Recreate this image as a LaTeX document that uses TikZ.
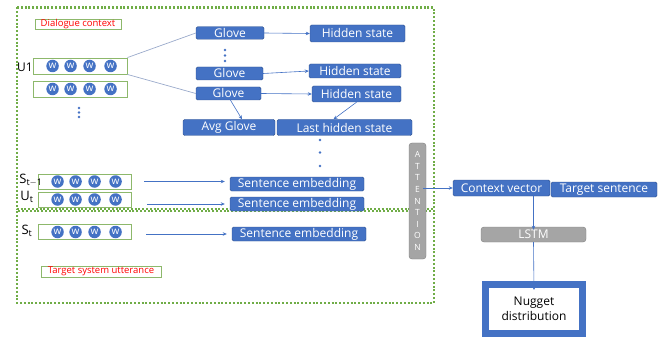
\documentclass[tikz,border=0pt]{standalone}
\usepackage{fontspec}
\setmainfont{Open Sans}
\usetikzlibrary{arrows.meta}

\definecolor{boxblue}{HTML}{4472C4}
\definecolor{boxedge}{HTML}{2F528F}
\definecolor{dotgreen}{HTML}{70AD47}
\definecolor{rowgreen}{HTML}{8DB86B}
\definecolor{attgray}{HTML}{A5A5A5}
\definecolor{attedge}{HTML}{7F7F7F}
\definecolor{linkgray}{HTML}{9AAACB}

\begin{document}
\begin{tikzpicture}[x=1pt, y=-1pt,
    blk/.style={draw=boxedge, fill=boxblue, text=white, rounded corners=1.5, inner sep=0, font=\fontsize{12}{13}\selectfont},
    gry/.style={draw=attedge, fill=attgray, text=white, rounded corners=3, inner sep=0, font=\fontsize{10}{12}\selectfont},
    row/.style={draw=rowgreen, line width=0.9, minimum width=94, minimum height=16, inner sep=0},
    wd/.style={circle, fill=boxblue, text=white, inner sep=0, minimum size=12.5, font=\fontsize{10}{10}\selectfont},
    tag/.style={draw=rowgreen, text=red, inner sep=0, font=\fontsize{9.5}{10}\selectfont},
    ctx/.style={dotgreen, line width=2.2, dash pattern=on 2pt off 1.8pt},
    arr/.style={boxblue, line width=0.6, -{Stealth[length=4pt, width=3.5pt]}},
    link/.style={linkgray, line width=0.7},
    dot/.style={circle, fill=boxblue, inner sep=0, minimum size=2.6},
    lab/.style={inner sep=0, font=\fontsize{13}{14}\selectfont}]
    \useasboundingbox (0,0) rectangle (665,337);

    % Context boxes
    \draw[ctx] (17,7.5) rectangle (434,209);
    \draw[ctx] (17,211) rectangle (434,303);
    \node[tag, minimum width=86, minimum height=10.5] (dctag) at (78,24) {Dialogue context};
    \node[tag, minimum width=120, minimum height=11] (tstag) at (101,271.5) {Target system utterance};

    % Utterances as rows of words
    \node[row] (u1) at (80,66) {};
    \node[row] (u2) at (80,89) {};
    \node[row, minimum width=93, minimum height=15] (st1) at (84.5,181.5) {};
    \node[row, minimum width=93, minimum height=15] (ut) at (84.5,199.5) {};
    \node[row, minimum width=93, minimum height=15] (st) at (84.5,232) {};
    \foreach \r in {u1, u2, st1, ut, st}
      \foreach \dx [count=\i] in {20, 38, 57, 78}
        \node[wd] (\r w\i) at ([xshift=\dx]\r.west) {w};

    \node[lab, font=\fontsize{12}{13}\selectfont] (u1lab) at (25,67) {U1};
    \node[lab] (st1lab) at (31,180) {$\mathrm{S}_{\mathrm{t-1}}$};
    \node[lab] (utlab) at (27,197) {$\mathrm{U}_{\mathrm{t}}$};
    \node[lab] (stlab) at (27,231) {$\mathrm{S}_{\mathrm{t}}$};

    \node[dot] (ud1) at (79,108) {};
    \node[dot] (ud2) at (79,112.5) {};
    \node[dot] (ud3) at (79,117) {};

    % Glove and hidden states
    \node[blk, minimum width=68, minimum height=12.5] (g1) at (230,33) {Glove};
    \node[blk, minimum width=67, minimum height=13] (g2) at (229.5,73.5) {Glove};
    \node[blk, minimum width=65, minimum height=13] (g3) at (228.5,93.5) {Glove};
    \node[dot] (gd1) at (225,50) {};
    \node[dot] (gd2) at (225,55.5) {};
    \node[dot] (gd3) at (225,61) {};

    \node[blk, minimum width=95, minimum height=17] (h1) at (357.5,33.5) {Hidden state};
    \node[blk, minimum width=92, minimum height=14] (h2) at (355,71) {Hidden state};
    \node[blk, minimum width=89, minimum height=16] (h3) at (356.5,94) {Hidden state};

    \node[blk, minimum width=92, minimum height=16] (avg) at (229,127.5) {Avg Glove};
    \node[blk, minimum width=135, minimum height=16] (last) at (344.5,127.5) {Last hidden state};
    \node[dot] (ld1) at (320,140) {};
    \node[dot] (ld2) at (320,152.5) {};
    \node[dot] (ld3) at (320,166) {};

    \draw[link] (u1.north east) -- (g1.west);
    \draw[link] (u1.south east) -- (g3.west);
    \draw[arr] (g1.east) -- (h1.west);
    \draw[arr] (g2.east) -- (h2.west);
    \draw[arr] (g3.east) -- (h3.west);
    \draw[arr] ([xshift=2]g3.south) -- ([xshift=13]avg.north);
    \draw[arr] (h3.south) -- ([xshift=-11]last.north);

    % Sentence embeddings
    \node[blk, minimum width=134, minimum height=14] (se1) at (297,184) {Sentence embedding};
    \node[blk, minimum width=134, minimum height=14] (se2) at (297,204) {Sentence embedding};
    \node[blk, minimum width=134, minimum height=14] (se3) at (299,234) {Sentence embedding};
    \draw[arr] ([xshift=13]st1.east) -- ([xshift=-5]se1.west |- st1.east);
    \draw[arr] ([xshift=16]ut.east |- se2.west) -- ([xshift=-5]se2.west);
    \draw[arr] ([xshift=15]st.east |- se3.west) -- ([xshift=-5]se3.west);

    % Attention and output
    \node[gry, minimum width=17, minimum height=116, font=\fontsize{8.5}{11.6}\selectfont, align=center] (att) at (417.5,201)
      {A\\T\\T\\E\\N\\T\\I\\O\\N};
    \node[blk, minimum width=97, minimum height=16] (cv) at (501.5,188) {Context vector};
    \node[blk, minimum width=106, minimum height=15] (ts) at (604,189.5) {Target sentence};
    \node[gry, minimum width=105, minimum height=15, font=\fontsize{12}{13}\selectfont] (lstm) at (533.5,234.5) {LSTM};
    \node[draw=boxblue, line width=7, fill=white, minimum width=97, minimum height=49, inner sep=0,
      align=center, font=\fontsize{12}{15}\selectfont] (nug) at (534,309) {Nugget\\distribution};

    \draw[arr] ([xshift=-3]att.east |- cv.west) -- (cv.west);
    \draw[arr] (lstm.north |- cv.south) -- ([yshift=-3]lstm.north);
    \draw[arr] (lstm.south) -- ([yshift=-9]nug.north);
\end{tikzpicture}
\end{document}
